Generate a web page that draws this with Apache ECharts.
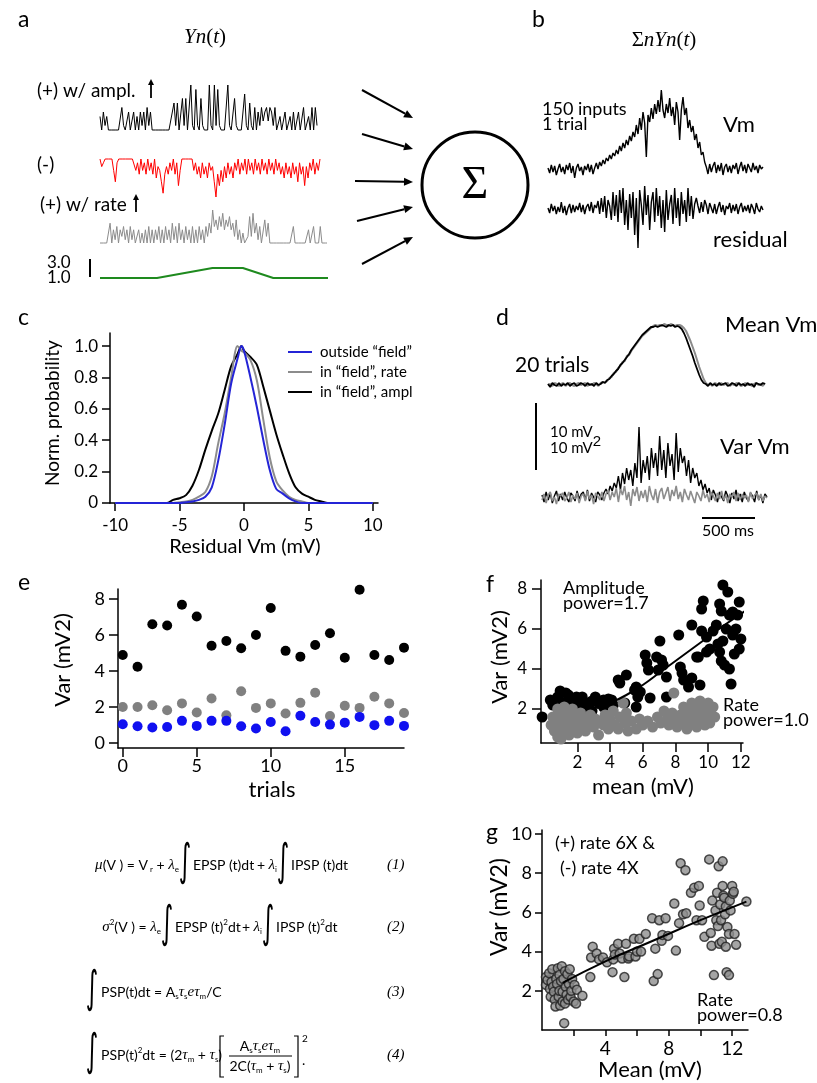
<!DOCTYPE html>
<html>
<head>
<meta charset="utf-8">
<title>Yn(t) model figure</title>
<script src="https://cdn.jsdelivr.net/npm/echarts@6/dist/echarts.min.js"></script>
<style>
  body { margin: 0; background: #fff; }
  #main { width: 817px; height: 1083px; }
</style>
</head>
<body>
<div id="main"></div>
<script>
// ---------- data ----------
// a: input traces, 0..10 relative height
var ampTrace = [3,0,4,1,3,0,0,0,0,0, 0,0,0,5,1,0,0,4,0,0, 4,0,3,0,4,1,4,0,5,1, 4,0,0,0,0,0,0,0,0,0,
  0,0,0,4,6,1,6,0,0,7, 1,7,0,0,10,1,0,9,1,0, 7,1,0,0,0,10,1,0,10,1, 9,1,0,0,0,0,10,1,0,0,
  7,1,0,0,0,0,8,1,0,6, 1,0,5,0,4,1,5,2,4,5, 2,5,4,1,5,0,0,3,0,0, 4,0,0,3,0,4,0,0,4,0, 0,5,0,0,3,0,5,0,5,1];
var inhTrace = [0,2,1,0,0,0,0,0,3,6, 1,0,0,0,0,0,0,0,0,0, 0,3,1,4,0,3,1,4,0,3, 1,4,0,5,2,3,6,9,4,2,
  4,1,3,0,4,1,7,3,0,0, 0,0,0,0,0,3,1,4,2,5, 1,4,2,5,1,3,2,6,10,4, 7,3,6,2,5,1,4,2,5,1,
  3,0,4,1,3,0,4,0,3,1, 4,0,3,1,4,0,3,1,4,0, 3,1,4,0,3,1,4,2,5,1, 4,2,5,1,4,2,6,1,4,2, 7,2,5,1,3,0,4,1,3,0];
var rateTrace = [0,0,0,0,0,0,6,0,4,1, 5,0,4,2,5,1,4,0,5,1, 4,0,0,4,0,3,0,4,0,5, 0,4,0,4,1,5,0,4,0,5,
  1,4,0,6,1,5,0,6,1,4, 0,5,1,4,0,5,0,4,0,5, 1,4,0,5,2,6,3,10,5,7, 4,8,5,9,4,7,5,8,4,6,
  2,7,1,4,0,3,0,0,2,8, 2,9,3,6,1,5,0,0,7,2, 6,0,0,0,0,0,0,0,0,0, 0,0,0,0,0,5,0,0,0,0,
  0,0,0,0,4,0,0,5,0,0, 0,5,0,0,0,0];
var fieldTime = [0, 750, 1480, 1880, 2280, 3000];
var fieldGain = [1, 1, 2, 2, 1, 1];

// b: summed Vm and residual (px above baseline)
var vmTrace = [2,-3,5,-2,4,-5,1,6,-2,3, -4,5,0,7,-3,4,-8,2,6,-1, 3,-5,4,0,6,-2,5,-4,2,7,
  1,8,4,10,6,12,9,15,11,17, 14,20,16,24,19,27,22,30,25,34, 29,38,33,45,36,52,40,58,47,13,
  55,48,62,51,66,56,70,58,80,60, 52,66,57,72,54,63,45,68,58,30, 60,73,55,62,42,50,38,44,30,36,
  22,28,15,18,8,3,-4,6,-2,4, 8,-3,5,-1,7,-5,3,6,-2,4, -3,5,1,7,-4,3,8,-1,5,-3, 6,2,-2,7,0,4,-3,5,1,3];
var residTrace = [2,-3,6,-1,4,-4,3,-2,8,-3, 4,-5,2,6,-3,5,-2,4,0,7, -2,5,-4,3,6,-1,8,-3,5,2,
  9,-4,12,-2,14,-8,10,4,-10,18, -6,15,-12,20,-3,22,-15,10,-20,16, -8,18,-25,12,-38,20,5,-15,24,-5,
  15,-20,8,18,-12,22,-6,14,-18,10, -22,20,-10,6,15,-14,22,-8,12,-16, 18,-4,10,-12,22,-6,14,-9,6,12,
  4,-3,8,-2,10,5,-4,7,2,-3, 6,-4,3,8,-2,5,-5,4,1,7, -3,5,-1,6,-4,3,7,-2,4,-1, 5,-3,6,2,-4,7,1,-2,4,0];

// c: residual distributions
var cX =        [-10,-6,-5.5,-5,-4.5,-4,-3.5,-3,-2.5,-2,-1.5,-1,-0.5,-0.2,0,0.5,1,1.5,2,2.5,3,3.5,4,4.5,5,5.5,6,6.5,10];
var cOutside =  [0,0,0,0,0.005,0.01,0.02,0.04,0.1,0.27,0.5,0.76,0.92,1.0,0.97,0.8,0.61,0.4,0.21,0.09,0.06,0.03,0.01,0,0,0,0,0,0];
var cRate =     [0,0,0,0.005,0.01,0.02,0.04,0.07,0.17,0.38,0.57,0.8,1.0,0.97,0.96,0.91,0.78,0.53,0.29,0.14,0.08,0.04,0.02,0.01,0,0,0,0,0];
var cAmpl =     [0,0,0.02,0.03,0.05,0.11,0.21,0.34,0.46,0.57,0.72,0.87,0.95,1.0,0.97,0.93,0.88,0.74,0.59,0.44,0.31,0.19,0.1,0.06,0.04,0.02,0.01,0,0];
var cLegend = ['outside \u201cfield\u201d', 'in \u201cfield\u201d, rate', 'in \u201cfield\u201d, ampl'];

// d: mean and variance over 20 trials (px above baseline)
var meanBlack = [1,-2,2,0,-1,2,-1,1,0,2, -1,1,2,-1,0,2,1,-1,2,0, 1,-1,2,0,1,3,2,5,6,9,
  11,14,16,20,22,25,28,31,35,38, 41,44,47,50,52,54,56,58,58,59, 58,59,60,59,58,60,59,60,58,59,
  58,56,52,47,41,35,29,22,16,10, 5,2,1,-1,2,0,1,-1,2,0, 1,2,-1,0,2,1,-1,2,0,1, -1,2,0,1,-2,2,1,0,2,1];
var meanGray = [0,1,-1,2,1,-1,1,2,-1,1, 2,0,-1,1,2,0,1,2,-1,1, 0,2,1,-1,2,3,3,4,7,8,
  12,13,17,19,23,24,29,30,34,37, 40,43,46,49,51,53,55,57,59,60, 59,60,59,61,60,59,61,60,59,60,
  60,59,57,54,49,44,38,32,25,18, 12,6,2,0,1,-1,2,1,0,2, 0,1,2,-1,1,0,2,1,-1,0, 2,0,1,-1,1,2,0,1,-1,2];
var varBlack = [3,-4,6,-2,5,-5,2,7,-3,4, -2,6,0,-4,5,2,-3,7,-1,4, 6,-2,8,-3,5,1,-4,6,3,-2,
  5,9,4,12,7,15,10,22,8,25, 14,30,18,28,12,35,20,71,15,38, 25,42,18,50,30,45,22,62,28,48,
  20,55,32,44,18,65,26,50,35,42, 22,38,15,30,20,25,12,18,8,14, 5,10,-2,8,3,-4,6,1,-3,7,
  2,-5,5,-1,8,-3,4,-4,6,0, -3,5,2,-4,7,-2,3,-5,4,1];
var varGray = [-2,4,-5,3,6,-3,1,-6,4,2, 5,-3,0,6,-4,3,-1,5,-5,2, 4,-3,7,-1,3,-6,5,2,-2,6,
  -3,4,8,-2,6,1,10,-4,9,3, 12,-2,6,-8,9,2,11,-3,7,0, 8,-4,12,3,-2,9,-5,6,10,-1,
  5,11,-3,8,2,12,-1,6,-4,9, 3,-2,7,1,-5,6,2,-3,8,0, 4,-4,6,2,-3,5,-1,7,-2,3,
  -5,4,1,6,-3,5,-2,4,0,3, -4,6,-1,3,5,-2,4,-3,2,0];

// e: variance per trial
var trials = [0,1,2,3,4,5,6,7,8,9,10,11,12,13,14,15,16,17,18,19];
var eAmpl =    [4.89,4.24,6.6,6.53,7.68,7.03,5.4,5.67,5.27,6.0,7.5,5.12,4.8,5.45,6.1,4.74,8.52,4.89,4.61,5.3];
var eRate =    [2.0,2.0,2.1,1.82,2.2,1.69,2.47,1.54,2.88,1.95,2.2,1.64,2.23,2.79,1.5,2.07,1.95,2.57,2.2,1.67];
var eOutside = [1.04,0.93,0.86,0.89,1.23,0.95,1.23,1.23,0.93,0.8,1.17,0.65,1.51,1.17,1.02,1.13,1.45,0.99,1.23,0.95];

// f: variance vs mean
var fAmplPts = [[-0.15,1.6],[0.35,2.45],[0.5,2.2],[0.8,2.6],[0.95,2.9],[1.1,2.3],[1.3,2.8],[1.45,2.7],[1.55,2.45],[1.6,2.2],
  [1.8,2.5],[1.95,2.6],[2.0,2.1],[2.15,2.3],[2.3,2.6],[2.3,1.95],[2.55,2.1],[2.6,2.3],[2.9,1.9],[2.9,2.4],
  [3.1,2.6],[3.3,2.3],[3.4,2.3],[3.6,2.45],[3.6,2.1],[3.8,2.4],[3.9,2.5],[4.1,2.45],[4.2,2.2],[4.5,3.45],
  [4.6,3.3],[4.9,2.3],[5.0,3.7],[5.5,2.95],[5.6,3.1],[5.6,2.1],[5.7,2.6],[5.85,2.85],[6.15,4.7],[6.25,4.3],
  [6.35,3.95],[6.45,2.55],[6.85,4.6],[6.95,3.95],[7.05,5.4],[7.15,4.45],[7.25,4.2],[7.45,3.6],[7.45,2.6],[8.2,5.7],
  [8.3,4.1],[8.4,3.8],[8.5,3.45],[8.7,3.4],[8.8,3.1],[9.0,3.55],[9.0,6.2],[9.3,4.6],[9.4,4.6],[9.5,3.2],
  [9.6,5.9],[9.6,7.0],[9.7,7.4],[9.9,5.6],[9.9,4.85],[10.1,5.0],[10.3,5.9],[10.5,6.2],[10.6,5.25],[10.7,7.25],
  [10.7,4.85],[10.8,6.9],[10.8,4.4],[10.9,8.2],[10.9,5.4],[11.0,4.2],[11.1,6.0],[11.2,7.85],[11.3,6.7],[11.3,4.0],
  [11.4,3.25],[11.5,6.85],[11.5,5.7],[11.6,4.75],[11.7,6.0],[11.8,6.7],[11.9,7.35],[11.9,5.0],[12.0,5.5],[12.2,4.6],[12.3,5.2]];
var fRatePts = [[0.4,1.2],[0.5,1.6],[0.6,0.9],[0.7,1.4],[0.8,2.0],[0.8,0.6],[0.9,1.1],[1.0,1.8],[1.0,0.5],[1.1,1.4],
  [1.2,2.1],[1.2,0.8],[1.3,1.6],[1.4,1.0],[1.5,1.9],[1.5,0.7],[1.6,1.3],[1.7,2.0],[1.8,1.0],[1.9,1.6],
  [2.0,0.8],[2.1,1.3],[2.2,1.8],[2.3,1.1],[2.4,1.5],[2.5,0.9],[2.7,1.3],[2.8,1.7],[3.0,1.1],[3.1,1.5],
  [3.3,0.7],[3.4,1.4],[3.6,1.2],[3.7,1.7],[3.9,1.0],[4.0,1.5],[4.2,1.9],[4.3,1.2],[4.5,1.0],[4.6,1.6],
  [4.8,2.3],[4.9,1.3],[5.0,1.8],[5.1,0.9],[5.3,1.4],[5.6,1.0],[5.8,1.5],[6.0,1.2],[6.3,1.4],[6.6,1.1],
  [6.9,1.6],[7.1,1.3],[7.3,1.9],[7.5,1.5],[7.6,1.2],[7.9,2.8],[7.8,1.8],[8.0,1.5],[8.1,1.1],[8.3,1.7],
  [8.4,1.3],[8.6,1.9],[8.7,1.0],[8.8,1.5],[8.9,2.0],[9.0,1.3],[9.1,1.7],[9.2,2.2],[9.3,1.1],[9.4,1.5],
  [9.5,1.9],[9.5,2.4],[9.6,1.3],[9.7,1.7],[9.8,2.1],[9.9,1.5],[10.0,1.9],[10.1,1.3],[10.2,1.7],[10.3,2.1],
  [10.4,1.6],[9.8,1.2],[9.0,2.3],[8.5,2.1],[10.0,2.3]];
var fAmplFit = [[3.2,2.05],[4,2.3],[5,2.7],[6,3.2],[7,3.8],[8,4.4],[9,5.0],[10,5.6],[11,6.2],[12.35,6.95]];

// g: combined rate change
var gPts = [[0.25,2.7],[0.25,2.3],[0.35,2.55],[0.45,2.9],[0.5,2.1],[0.55,1.7],[0.6,2.45],[0.65,3.1],[0.7,2.2],[0.75,1.95],
  [0.8,1.55],[0.85,1.2],[0.9,2.6],[0.95,2.35],[1.0,3.15],[1.05,1.7],[1.1,2.0],[1.1,2.8],[1.15,1.25],[1.2,2.5],
  [1.25,3.25],[1.3,1.95],[1.3,1.45],[1.35,2.6],[1.4,0.35],[1.45,1.35],[1.45,3.0],[1.5,2.2],[1.55,1.8],[1.6,2.85],
  [1.65,1.55],[1.7,2.35],[1.75,3.1],[1.8,1.7],[1.85,2.0],[1.9,2.6],[2.0,1.45],[2.05,2.3],[2.15,1.35],[2.2,2.05],[2.55,1.75],
  [3.05,2.7],[3.1,3.7],[3.2,4.25],[3.45,3.9],[3.6,3.6],[3.85,3.7],[4.1,3.45],[4.45,2.95],[4.5,3.6],[4.55,4.15],
  [4.6,3.85],[4.8,4.4],[4.9,3.9],[5.05,3.65],[5.2,2.7],[5.3,4.4],[5.45,3.65],[5.5,3.75],[5.8,4.65],[5.9,3.75],
  [6.0,4.0],[6.15,4.65],[6.25,4.0],[6.55,4.9],[6.95,5.7],[7.05,2.5],[7.15,4.15],[7.3,2.85],[7.4,5.6],[7.55,4.55],
  [7.6,4.85],[7.8,5.7],[7.95,4.8],[8.35,6.45],[8.45,4.05],[8.65,5.45],[8.75,8.5],[8.9,5.9],[9.05,8.15],[9.1,5.95],
  [9.4,7.0],[9.6,7.25],[9.75,5.6],[9.9,7.35],[9.95,6.35],[10.1,5.6],[10.25,4.75],[10.55,8.7],[10.65,4.95],[10.7,4.3],
  [10.75,6.6],[10.85,2.8],[10.95,6.1],[11.0,5.6],[11.05,7.0],[11.1,5.3],[11.15,8.35],[11.2,4.4],[11.25,6.4],[11.3,5.6],
  [11.35,4.5],[11.4,8.6],[11.4,7.35],[11.45,6.85],[11.5,6.75],[11.55,5.9],[11.6,6.3],[11.6,4.25],[11.65,2.95],[11.7,5.25],
  [11.75,10.25],[11.8,2.8],[11.8,4.9],[11.85,6.6],[11.9,6.1],[12.0,7.35],[12.05,6.95],[12.1,7.05],[12.15,4.9],[12.25,4.35],[12.9,6.55]];
var gFit = [[1.3,2.4],[4,3.5],[7,4.55],[10,5.6],[12.9,6.55]];

// ---------- layout ----------
var FONT = 'Lato, "Open Sans", sans-serif';
var SERIF = '"Liberation Serif", "DejaVu Serif", serif';
var grids = [], xAxes = [], yAxes = [], series = [];

function addGrid(box, xa, ya) {
  var gi = grids.length;
  grids.push(box);
  xa.gridIndex = gi; ya.gridIndex = gi;
  xAxes.push(xa); yAxes.push(ya);
  return gi;
}
function hidden(min, max, inv) {
  return { type: 'value', show: false, min: min, max: max, inverse: !!inv };
}
function axis(min, max, ticks, labels, fs, margin, tickLen, fmt) {
  return {
    type: 'value', min: min, max: max,
    axisLine: { show: true, onZero: false, lineStyle: { color: '#000', width: 1.5 } },
    axisTick: { show: true, length: tickLen, customValues: ticks, lineStyle: { color: '#000', width: 1.5 } },
    axisLabel: { show: true, customValues: labels, fontSize: fs, fontFamily: FONT, color: '#000', margin: margin,
      formatter: fmt || function (v) { return String(v); } },
    splitLine: { show: false }
  };
}
function trace(gi, arr, color, w) {
  series.push({ type: 'line', xAxisIndex: gi, yAxisIndex: gi, symbol: 'none', clip: false,
    data: arr.map(function (v, i) { return [i, v]; }),
    lineStyle: { color: color, width: w } });
}
function pts(gi, data, color, size, border) {
  series.push({ type: 'scatter', xAxisIndex: gi, yAxisIndex: gi, symbolSize: size, data: data,
    itemStyle: border ? { color: color, borderColor: '#222', borderWidth: 1.5 } : { color: color, opacity: 1 } });
}

// a: input traces
var g;
g = addGrid({ left: 100, top: 85, width: 217, height: 45 }, hidden(0, ampTrace.length - 1), hidden(0, 10));
trace(g, ampTrace, '#000', 1);
g = addGrid({ left: 100, top: 159, width: 220, height: 38 }, hidden(0, inhTrace.length - 1), hidden(0, 10, true));
trace(g, inhTrace, '#ff0000', 1);
g = addGrid({ left: 100, top: 210, width: 227, height: 33 }, hidden(0, rateTrace.length - 1), hidden(0, 10));
trace(g, rateTrace, '#8c8c8c', 1);
g = addGrid({ left: 100, top: 258, width: 228, height: 20 }, hidden(0, 3000), hidden(1, 3));
series.push({ type: 'line', xAxisIndex: g, yAxisIndex: g, symbol: 'none', clip: false,
  data: fieldTime.map(function (t, i) { return [t, fieldGain[i]]; }),
  lineStyle: { color: '#1e8a1e', width: 2 } });

// b: summed output
g = addGrid({ left: 548, top: 80, width: 215, height: 100 }, hidden(0, vmTrace.length - 1), hidden(-10, 90));
trace(g, vmTrace, '#000', 1.4);
g = addGrid({ left: 548, top: 160, width: 215, height: 100 }, hidden(0, residTrace.length - 1), hidden(-50, 50));
trace(g, residTrace, '#000', 1.4);

// c: distributions
g = addGrid({ left: 110, top: 333, width: 268, height: 170 },
  axis(-10.4, 10.4, [-10, -5, 0, 5, 10], [-10, -5, 0, 5, 10], 17, 14, 8),
  axis(0, 1.083, [0, 0.2, 0.4, 0.6, 0.8, 1.0], [0, 0.2, 0.4, 0.6, 0.8, 1.0], 17, 12, 8,
    function (v) { return v === 0 ? '0' : v.toFixed(1); }));
[[cAmpl, '#000'], [cRate, '#8c8c8c'], [cOutside, '#2424d6']].forEach(function (c) {
  series.push({ type: 'line', xAxisIndex: g, yAxisIndex: g, symbol: 'none', smooth: 0.3,
    data: cX.map(function (x, i) { return [x, c[0][i]]; }), lineStyle: { color: c[1], width: 2 } });
});

// d: mean and var over trials
g = addGrid({ left: 548, top: 315, width: 217, height: 80 }, hidden(0, meanGray.length - 1), hidden(-10, 70));
trace(g, meanGray, '#8c8c8c', 2);
trace(g, meanBlack, '#000', 1.8);
g = addGrid({ left: 542, top: 418, width: 225, height: 90 }, hidden(0, varBlack.length - 1), hidden(-10, 80));
trace(g, varBlack, '#000', 1.4);
trace(g, varGray, '#8c8c8c', 1.6);

// e: per-trial variance
g = addGrid({ left: 118, top: 589, width: 286, height: 159 },
  axis(-0.32, 19, [0, 5, 10, 15], [0, 5, 10, 15], 18, 9, 9),
  axis(-0.28, 8.56, [0, 2, 4, 6, 8], [0, 2, 4, 6, 8], 18, 13, 9));
pts(g, trials.map(function (t, i) { return [t, eAmpl[i]]; }), '#000', 10);
pts(g, trials.map(function (t, i) { return [t, eRate[i]]; }), '#808080', 10);
pts(g, trials.map(function (t, i) { return [t, eOutside[i]]; }), '#1010f0', 10);

// f: var vs mean
g = addGrid({ left: 541, top: 580, width: 202, height: 163 },
  axis(-0.22, 12.13, [2, 4, 6, 8, 10, 12], [2, 4, 6, 8, 10, 12], 17, 11, 9),
  axis(0.3, 8.45, [2, 4, 6, 8], [2, 4, 6, 8], 17, 14, 9));
pts(g, fAmplPts, '#000', 11);
series.push({ type: 'line', xAxisIndex: g, yAxisIndex: g, symbol: 'none', smooth: true, data: fAmplFit,
  lineStyle: { color: '#000', width: 2 } });
pts(g, fRatePts, '#808080', 11);

// g: combined rates
g = addGrid({ left: 542, top: 830, width: 206, height: 200 },
  axis(0, 13, [2, 4, 6, 8, 10, 12], [4, 8, 12], 19, 9, 6),
  axis(0, 10.2, [2, 4, 6, 8, 10], [2, 4, 6, 8, 10], 18, 10, 7));
pts(g, gPts, '#8e8e8e', 9, true);
series.push({ type: 'line', xAxisIndex: g, yAxisIndex: g, symbol: 'none', smooth: true, data: gFit,
  lineStyle: { color: '#000', width: 2 } });

// ---------- annotations ----------
function T(x, y, s, size, o) {
  o = o || {};
  return { type: 'text', x: x, y: y, rotation: o.rot || 0, scaleX: o.sx || 1, z: 10,
    style: { text: s, fontSize: size, fontFamily: o.ff || FONT, fontStyle: o.fs || 'normal',
      fill: o.c || '#000', align: o.a || 'left', verticalAlign: 'middle', rich: o.rich } };
}
function L(x1, y1, x2, y2, w, c) {
  return { type: 'line', z: 10, shape: { x1: x1, y1: y1, x2: x2, y2: y2 },
    style: { stroke: c || '#000', lineWidth: w || 2 } };
}
function arrow(x1, y1, x2, y2, len, wid, w) {
  var a = Math.atan2(y2 - y1, x2 - x1);
  var bx = x2 - len * Math.cos(a), by = y2 - len * Math.sin(a);
  return [L(x1, y1, bx, by, w),
    { type: 'polygon', z: 10, shape: { points: [[x2, y2],
      [bx + wid * Math.sin(a), by - wid * Math.cos(a)], [bx - wid * Math.sin(a), by + wid * Math.cos(a)]] },
      style: { fill: '#000' } }];
}

var mathRich = {
  i: { fontFamily: SERIF, fontStyle: 'italic', fontSize: 21 },
  u: { fontFamily: SERIF, fontSize: 21 }
};
var eqRich = {
  g: { fontFamily: SERIF, fontStyle: 'italic', fontSize: 15 },
  sub: { fontSize: 8, fontFamily: FONT, padding: [9, 0, 0, 0] },
  sup: { fontSize: 8, fontFamily: FONT, padding: [0, 0, 9, 0] }
};
function EQ(x, y, s, a) { return T(x, y, s, 14, { rich: eqRich, a: a }); }
function INT(x, y) { return T(x, y - 1, '\u222b', 44, { ff: '"DejaVu Sans", sans-serif', a: 'center', sx: 0.55 }); }

var els = [];
// panel letters
[['a', 18, 20], ['b', 532, 20], ['c', 18, 318], ['d', 496, 318], ['e', 18, 583], ['f', 486, 585], ['g', 486, 833]]
  .forEach(function (p) { els.push(T(p[1], p[2], p[0], 23)); });

// a
els.push(T(205, 37, '{i|Yn}{u|(}{i|t}{u|)}', 21, { rich: mathRich, a: 'center' }));
els.push(T(37, 91, '(+) w/ ampl.', 19));
els.push(T(37, 165, '(-)', 19));
els.push(T(40, 205, '(+) w/ rate', 19));
els = els.concat(arrow(151, 98, 151, 79, 6, 3, 1.8));
els = els.concat(arrow(136, 212, 136, 194, 6, 3, 1.8));
els.push(T(47, 263, '3.0', 17));
els.push(T(47, 278, '1.0', 17));
els.push(L(90, 259, 90, 277, 2));
[[362, 90, 413, 118], [362, 134, 413, 149], [355, 181, 413, 182], [357, 221, 413, 207], [362, 264, 413, 237]]
  .forEach(function (p) { els = els.concat(arrow(p[0], p[1], p[2], p[3], 9, 4, 2)); });
els.push({ type: 'circle', z: 10, shape: { cx: 475, cy: 185, r: 53 }, style: { fill: null, stroke: '#000', lineWidth: 3 } });
els.push(T(475, 186, '\u03a3', 46, { ff: SERIF, a: 'center' }));

// b
els.push(T(664, 40, '{u|\u03a3}{i|nYn}{u|(}{i|t}{u|)}', 21, { rich: mathRich, a: 'center' }));
els.push(T(542, 109, '150 inputs', 18));
els.push(T(542, 124, '1 trial', 18));
els.push(T(723, 125, 'Vm', 22));
els.push(T(713, 240, 'residual', 22));

// c
els.push(T(53, 413, 'Norm. probability', 19, { rot: Math.PI / 2, a: 'center' }));
els.push(T(245, 547, 'Residual Vm (mV)', 20, { a: 'center' }));
[['#2424d6', 352], ['#8c8c8c', 372], ['#000', 392]].forEach(function (p, i) {
  els.push(L(288, p[1], 312, p[1], 2, p[0]));
  els.push(T(320, p[1], cLegend[i], 15));
});

// d
els.push(T(725, 325, 'Mean Vm', 22));
els.push(T(515, 365, '20 trials', 21));
els.push(L(536, 403, 536, 470, 2));
els.push(T(550, 432, '10 mV', 15));
els.push(T(550, 448, '10 mV{s|2}', 15, { rich: { s: { fontSize: 15, padding: [0, 0, 13, 0] } } }));
els.push(T(720, 447, 'Var Vm', 22));
els.push(L(702, 518, 755, 518, 2));
els.push(T(728, 531, '500 ms', 16, { a: 'center' }));

// e
els.push(T(63, 660, 'Var (mV2)', 22, { rot: Math.PI / 2, a: 'center' }));
els.push(T(272, 790, 'trials', 22, { a: 'center' }));

// f
els.push(T(500, 657, 'Var (mV2)', 22, { rot: Math.PI / 2, a: 'center' }));
els.push(T(643, 787, 'mean (mV)', 22, { a: 'center' }));
els.push(T(563, 588, 'Amplitude', 18));
els.push(T(563, 603, 'power=1.7', 18));
els.push(T(723, 705, 'Rate', 18));
els.push(T(723, 720, 'power=1.0', 18));

// g
els.push(T(500, 907, 'Var (mV2)', 23, { rot: Math.PI / 2, a: 'center' }));
els.push(T(650, 1070, 'Mean (mV)', 22, { a: 'center' }));
els.push(T(555, 843, '(+) rate 6X &', 18));
els.push(T(560, 868, '(-) rate 4X', 18));
els.push(T(697, 1000, 'Rate', 18));
els.push(T(697, 1015, 'power=0.8', 18));

// equations (segments placed around the integral signs)
els.push(EQ(179, 865, '{g|\u03bc}(V ) = V{sub| r} + {g|\u03bb}{sub|e}', 'right'));
els.push(INT(185, 865));
els.push(EQ(193, 865, 'EPSP (t)dt'));
els.push(EQ(277, 865, '+ {g|\u03bb}{sub|i}', 'right'));
els.push(INT(283, 865));
els.push(EQ(291, 865, 'IPSP (t)dt'));

els.push(EQ(161, 927, '{g|\u03c3}{sup|2}(V ) = {g|\u03bb}{sub|e}', 'right'));
els.push(INT(167, 927));
els.push(EQ(175, 927, 'EPSP (t){sup|2}dt'));
els.push(EQ(262, 927, '+ {g|\u03bb}{sub|i}', 'right'));
els.push(INT(268, 927));
els.push(EQ(276, 927, 'IPSP (t){sup|2}dt'));

els.push(INT(92, 992));
els.push(EQ(101, 992, 'PSP(t)dt = A{sub|s}{g|\u03c4}{sub|s}{g|e\u03c4}{sub|m}/C'));

els.push(INT(92, 1055));
els.push(EQ(101, 1055, 'PSP(t){sup|2}dt = (2{g|\u03c4}{sub|m} + {g|\u03c4}{sub|s})'));
els.push({ type: 'polyline', z: 10, shape: { points: [[224, 1036], [220, 1036], [220, 1077], [224, 1077]] },
  style: { stroke: '#000', lineWidth: 1.2, fill: null } });
els.push({ type: 'polyline', z: 10, shape: { points: [[294, 1036], [298, 1036], [298, 1077], [294, 1077]] },
  style: { stroke: '#000', lineWidth: 1.2, fill: null } });
els.push(EQ(260, 1046, 'A{sub|s}{g|\u03c4}{sub|s}{g|e\u03c4}{sub|m}', 'center'));
els.push(L(229, 1056, 292, 1056, 1));
els.push(EQ(260, 1066, '2C({g|\u03c4}{sub|m} + {g|\u03c4}{sub|s})', 'center'));
els.push(T(302, 1039, '2', 10));
els.push(T(302, 1060, '.', 14));
[['(1)', 865], ['(2)', 927], ['(3)', 992], ['(4)', 1055]].forEach(function (p) {
  els.push(T(387, p[1], p[0], 15, { ff: SERIF, fs: 'italic' }));
});

var chart = echarts.init(document.getElementById('main'));
chart.setOption({
  animation: false,
  backgroundColor: '#fff',
  grid: grids,
  xAxis: xAxes,
  yAxis: yAxes,
  series: series,
  graphic: { elements: els }
});
</script>
</body>
</html>
